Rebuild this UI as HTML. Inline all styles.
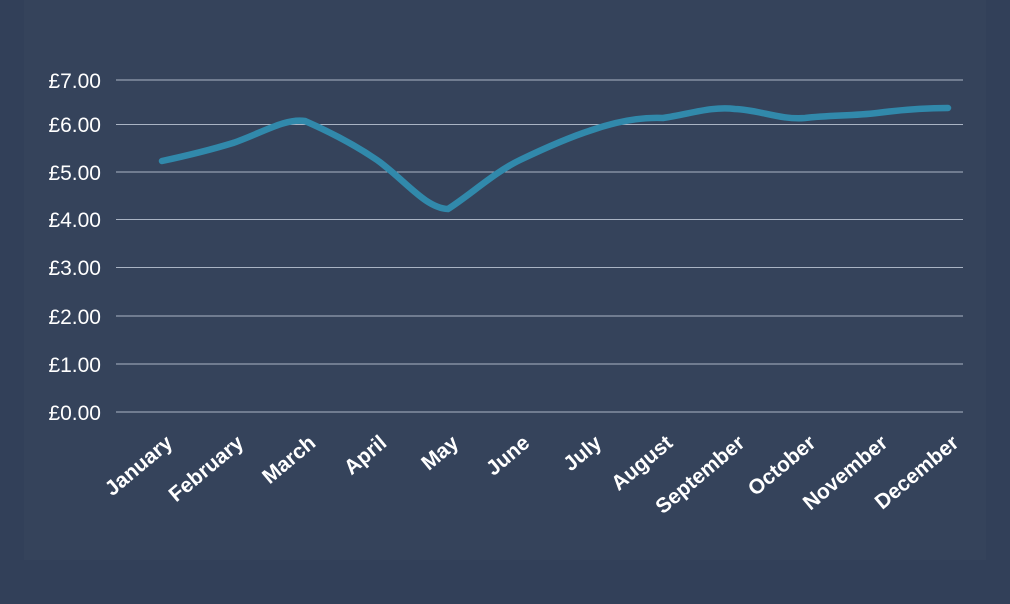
<!DOCTYPE html>
<html><head><style>
html,body{margin:0;padding:0;background:#334059;}
svg{display:block}
</style></head><body>
<svg width="1010" height="604" xmlns="http://www.w3.org/2000/svg" font-family="Liberation Sans, sans-serif">
<rect width="1010" height="604" fill="#324059"/>
<rect x="24" y="0" width="962" height="560" fill="#35435b"/>
<g stroke="#aab4c4" stroke-width="1">
<line x1="116" x2="963" y1="80" y2="80"/>
<line x1="116" x2="963" y1="124.5" y2="124.5"/>
<line x1="116" x2="963" y1="172" y2="172"/>
<line x1="116" x2="963" y1="219.5" y2="219.5"/>
<line x1="116" x2="963" y1="267.5" y2="267.5"/>
<line x1="116" x2="963" y1="316" y2="316"/>
<line x1="116" x2="963" y1="364" y2="364"/>
<line x1="116" x2="963" y1="412" y2="412"/>
</g>
<g fill="#ffffff" font-size="21" text-anchor="end">
<text x="101" y="88">£7.00</text>
<text x="101" y="132">£6.00</text>
<text x="101" y="180">£5.00</text>
<text x="101" y="227">£4.00</text>
<text x="101" y="275">£3.00</text>
<text x="101" y="324">£2.00</text>
<text x="101" y="372">£1.00</text>
<text x="101" y="420">£0.00</text>
</g>
<path d="M162,161 C190,155 210,150 233,143 C262,133 285,118 305,121 C330,132 355,145 377,160 C405,180 425,208 448,209 C470,195 495,172 520,160 C545,148 570,137 592,130 C615,122 640,117 663,118 C690,114 712,106 735,109 C760,110 780,120 805,118 C830,115 852,116 877,113 C900,110 925,108 948,108" fill="none" stroke="#3189ab" stroke-width="6.5" stroke-linecap="round"/>
<g fill="#ffffff" font-size="21" font-weight="bold" text-anchor="end">
<text transform="translate(174,445) rotate(-40)">January</text>
<text transform="translate(245,445) rotate(-40)">February</text>
<text transform="translate(317,445) rotate(-40)">March</text>
<text transform="translate(388,445) rotate(-40)">April</text>
<text transform="translate(460,445) rotate(-40)">May</text>
<text transform="translate(531,445) rotate(-40)">June</text>
<text transform="translate(603,445) rotate(-40)">July</text>
<text transform="translate(674,445) rotate(-40)">August</text>
<text transform="translate(746,445) rotate(-40)">September</text>
<text transform="translate(817,445) rotate(-40)">October</text>
<text transform="translate(889,445) rotate(-40)">November</text>
<text transform="translate(960,445) rotate(-40)">December</text>
</g>
</svg>
</body></html>
